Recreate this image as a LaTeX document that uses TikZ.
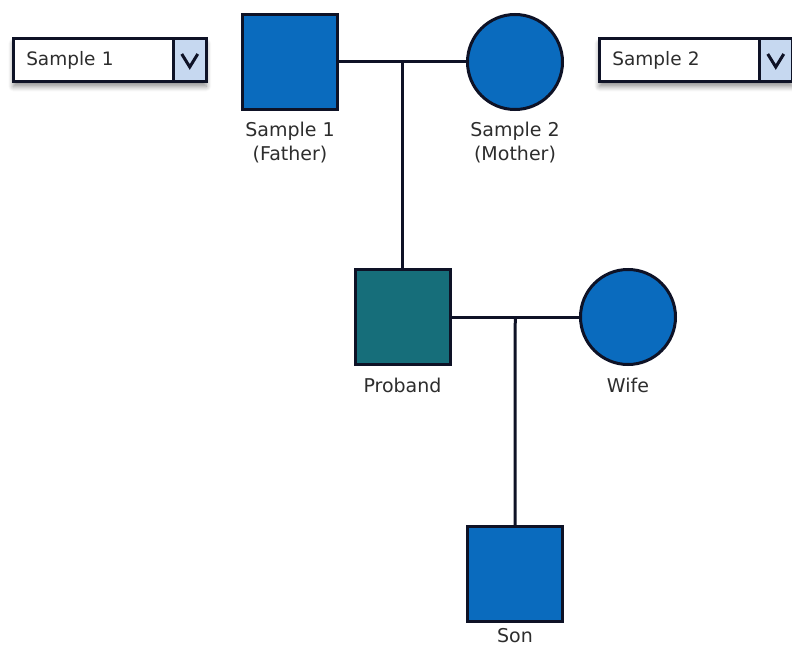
\documentclass[tikz,border=0pt]{standalone}
\usepackage{fontspec}
\setmainfont{DejaVu Sans}
\usepackage{tikz}
\usetikzlibrary{positioning,shadows.blur}

\definecolor{pedblue}{RGB}{10,107,190}
\definecolor{pedteal}{RGB}{22,110,122}
\definecolor{pedline}{RGB}{14,18,38}
\definecolor{menublue}{RGB}{198,216,240}
\definecolor{labelgray}{RGB}{45,45,45}

\tikzset{
	male/.style={rectangle,draw=pedline,line width=3pt,fill=pedblue,minimum size=95pt,inner sep=0pt},
	female/.style={circle,draw=pedline,line width=3pt,fill=pedblue,minimum size=95pt,inner sep=0pt},
	pedlabel/.style={text=labelgray,font=\fontsize{19}{23.5}\selectfont,align=center,inner sep=0pt},
	kin/.style={draw=pedline,line width=3pt},
	menubox/.style={rectangle,draw=pedline,line width=2.5pt,fill=white,minimum height=43pt,
		text width=167pt,inner xsep=13pt,align=left,text=labelgray,font=\fontsize{18.5}{22}\selectfont,
		blur shadow={shadow xshift=0pt,shadow yshift=-5pt,shadow blur radius=5pt,shadow blur steps=8,shadow opacity=45}},
	menubtn/.style={rectangle,draw=pedline,line width=2.5pt,fill=menublue,minimum width=33pt,minimum height=43pt,inner sep=0pt},
	chevron/.style={draw=pedline,line width=3pt,line join=miter}
}

\begin{document}
\begin{tikzpicture}[x=1pt,y=-1pt]
	\useasboundingbox (0,0) rectangle (792,650);

	% parents
	\node[male] (father) at (290,62) {};
	\node[female] (mother) at (515,62) {};
	\node[pedlabel,below=11pt of father] (fatherlbl) {Sample 1\\(Father)};
	\node[pedlabel,below=11pt of mother] (motherlbl) {Sample 2\\(Mother)};

	% proband and spouse
	\node[male,fill=pedteal] (proband) at (402.5,317) {};
	\node[female] (wife) at (628,317) {};
	\node[pedlabel,below=12pt of proband] (probandlbl) {Proband};
	\node[pedlabel,below=12pt of wife] (wifelbl) {Wife};

	% child
	\node[male] (son) at (515,574) {};
	\node[pedlabel,below=5pt of son] (sonlbl) {Son};

	% marriage and descent lines
	\draw[kin] (father.east) -- coordinate[midway] (union1) (mother.west);
	\draw[kin] (union1) -- (proband.north);
	\draw[kin] (proband.east) -- coordinate[midway] (union2) (wife.west);
	\draw[kin] (union2) -- (son.north);

	% sample selectors
	\node[menubox,anchor=west] (menu1) at (12,60) {Sample 1};
	\node[menubtn,anchor=east] (btn1) at (menu1.east) {};
	\draw[chevron] ([xshift=-8pt,yshift=6pt]btn1.center) -- ([yshift=-7pt]btn1.center) -- ([xshift=8pt,yshift=6pt]btn1.center);

	\node[menubox,anchor=west] (menu2) at (598,60) {Sample 2};
	\node[menubtn,anchor=east] (btn2) at (menu2.east) {};
	\draw[chevron] ([xshift=-8pt,yshift=6pt]btn2.center) -- ([yshift=-7pt]btn2.center) -- ([xshift=8pt,yshift=6pt]btn2.center);
\end{tikzpicture}
\end{document}
